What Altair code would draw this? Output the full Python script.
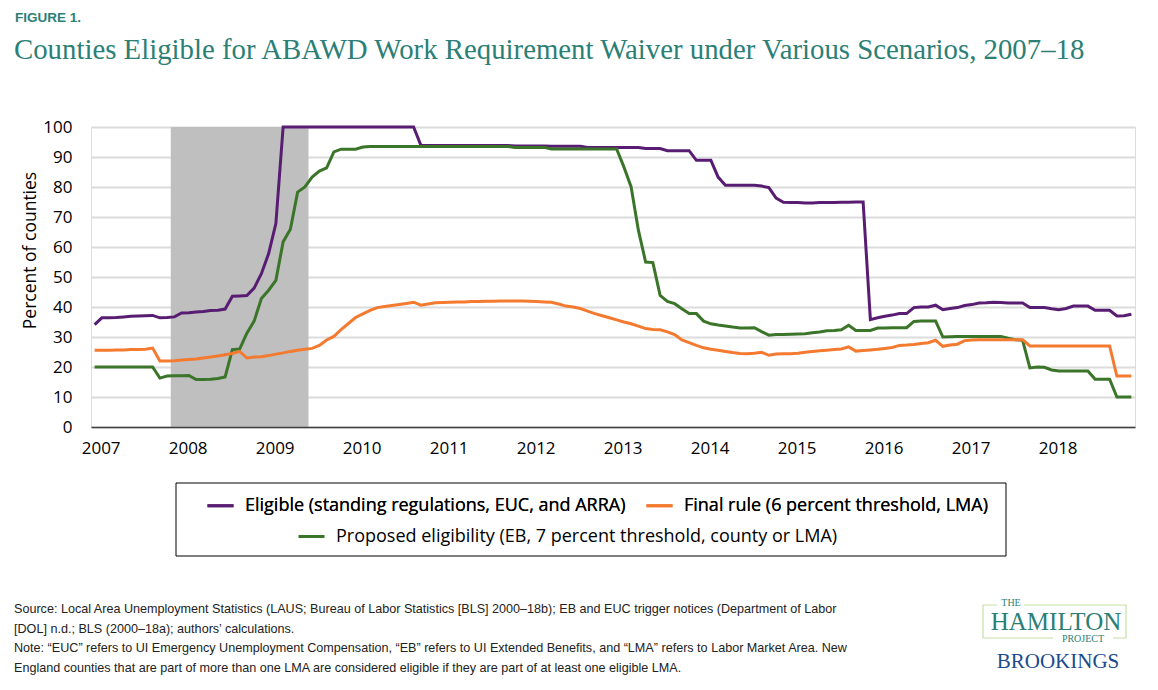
import altair as alt
import pandas as pd

# ---------------- data ----------------
year_labels = [str(y) for y in range(2007, 2019)]

eligible = [
    34.1, 36.4, 36.4, 36.5, 36.7, 36.9, 37.0, 37.1, 37.2, 36.4, 36.5, 36.7,
    38.0, 38.1, 38.3, 38.5, 38.8, 38.9, 39.3, 43.6, 43.7, 43.8, 46.3, 51.1,
    57.8, 67.8, 100.0, 100.0, 100.0, 100.0, 100.0, 100.0, 100.0, 100.0, 100.0, 100.0,
    100.0, 100.0, 100.0, 100.0, 100.0, 100.0, 100.0, 100.0, 100.0, 93.9, 93.8, 93.8,
    93.8, 93.8, 93.8, 93.8, 93.8, 93.8, 93.8, 93.8, 93.8, 93.8, 93.7, 93.7,
    93.7, 93.7, 93.7, 93.6, 93.6, 93.6, 93.6, 93.6, 93.2, 93.2, 93.2, 93.2,
    93.2, 93.2, 93.2, 93.2, 92.8, 92.8, 92.8, 92.1, 92.1, 92.1, 92.1, 88.9,
    88.9, 88.9, 83.3, 80.6, 80.6, 80.6, 80.6, 80.6, 80.3, 79.8, 76.3, 74.9,
    74.8, 74.8, 74.7, 74.7, 74.8, 74.8, 74.8, 74.9, 74.9, 75.0, 75.0, 35.8,
    36.4, 36.9, 37.3, 37.8, 37.8, 39.8, 40.0, 40.0, 40.6, 39.1, 39.5, 39.8,
    40.5, 40.8, 41.3, 41.4, 41.6, 41.5, 41.3, 41.3, 41.3, 39.8, 39.8, 39.8,
    39.4, 39.1, 39.5, 40.3, 40.3, 40.3, 38.9, 38.9, 38.9, 37.0, 37.1, 37.6,
]

final_rule = [
    25.6, 25.6, 25.6, 25.7, 25.7, 25.8, 25.8, 25.9, 26.3, 22.0, 22.0, 22.1,
    22.3, 22.5, 22.7, 23.0, 23.3, 23.7, 24.1, 24.5, 25.2, 23.0, 23.3, 23.4,
    23.8, 24.3, 24.7, 25.2, 25.6, 25.9, 26.2, 27.2, 29.0, 30.2, 32.5, 34.5,
    36.5, 37.7, 38.9, 39.8, 40.2, 40.5, 40.8, 41.2, 41.6, 40.6, 41.0, 41.4,
    41.5, 41.6, 41.7, 41.7, 41.8, 41.8, 41.9, 41.9, 42.0, 42.0, 42.0, 42.0,
    41.9, 41.8, 41.7, 41.6, 41.0, 40.3, 40.0, 39.5, 38.6, 37.8, 37.1, 36.4,
    35.7, 35.0, 34.4, 33.6, 32.8, 32.5, 32.4, 31.7, 30.8, 29.0, 28.1, 27.2,
    26.4, 25.9, 25.6, 25.2, 24.8, 24.5, 24.4, 24.6, 24.9, 23.9, 24.3, 24.4,
    24.4, 24.6, 24.9, 25.2, 25.4, 25.6, 25.8, 26.0, 26.7, 25.3, 25.5, 25.7,
    25.9, 26.2, 26.5, 27.2, 27.3, 27.5, 27.8, 28.1, 28.9, 26.9, 27.3, 27.6,
    28.8, 29.0, 29.1, 29.1, 29.1, 29.1, 29.1, 29.1, 29.1, 27.0, 27.0, 27.0,
    27.0, 27.0, 27.0, 27.0, 27.0, 27.0, 27.0, 27.0, 27.0, 17.0, 17.0, 17.0,
]

proposed = [
    20.0, 20.0, 20.0, 20.0, 20.0, 20.0, 20.0, 20.0, 20.0, 16.3, 17.0, 17.1,
    17.1, 17.2, 15.8, 15.8, 15.9, 16.2, 16.7, 25.8, 26.0, 31.3, 35.3, 42.8,
    45.6, 48.9, 61.7, 65.9, 78.3, 80.0, 83.3, 85.3, 86.4, 91.7, 92.6, 92.6,
    92.6, 93.3, 93.5, 93.5, 93.5, 93.5, 93.5, 93.5, 93.5, 93.5, 93.5, 93.5,
    93.5, 93.5, 93.5, 93.5, 93.5, 93.5, 93.5, 93.5, 93.5, 93.5, 93.2, 93.2,
    93.2, 93.2, 93.2, 92.7, 92.7, 92.7, 92.7, 92.7, 92.7, 92.7, 92.7, 92.7,
    92.7, 86.7, 80.0, 65.6, 55.0, 54.8, 43.9, 41.9, 41.1, 39.4, 37.8, 37.8,
    35.3, 34.4, 34.0, 33.7, 33.3, 33.0, 33.0, 33.1, 31.8, 30.6, 30.8, 30.8,
    30.9, 31.0, 31.1, 31.4, 31.7, 32.1, 32.2, 32.4, 33.9, 32.2, 32.2, 32.2,
    33.0, 33.0, 33.1, 33.1, 33.1, 35.2, 35.3, 35.3, 35.3, 30.0, 30.1, 30.2,
    30.2, 30.2, 30.2, 30.2, 30.2, 30.2, 29.6, 29.1, 28.9, 19.7, 20.0, 19.9,
    19.0, 18.7, 18.7, 18.7, 18.7, 18.7, 15.9, 15.9, 15.9, 10.0, 10.0, 10.0,
]

series_names = [
    "Eligible (standing regulations, EUC, and ARRA)",
    "Final rule (6 percent threshold, LMA)",
    "Proposed eligibility (EB, 7 percent threshold, county or LMA)",
]

# recession (Dec 2007 - Jun 2009) as month boundaries counted from Jan 2007
recession_start = [11]
recession_end = [30]
recession_top = [100]
recession_bottom = [0]

footnote_lines = [
    "Source: Local Area Unemployment Statistics (LAUS; Bureau of Labor Statistics [BLS] 2000–18b); EB and EUC trigger notices (Department of Labor",
    "[DOL] n.d.; BLS (2000–18a); authors’ calculations.",
    "Note: “EUC” refers to UI Emergency Unemployment Compensation, “EB” refers to UI Extended Benefits, and “LMA” refers to Labor Market Area. New",
    "England counties that are part of more than one LMA are considered eligible if they are part of at least one eligible LMA.",
]

# ---------------- styles ----------------
PURPLE = "#581d72"
ORANGE = "#f47a30"
GREEN = "#3b7529"
TEAL = "#2b7f76"
SANS = "Open Sans"
W, H = 1044, 300

n = len(eligible)
rows = []
for name, vals in zip(series_names, [eligible, final_rule, proposed]):
    for k, v in enumerate(vals):
        rows.append({"series": name, "month": k + 0.5, "value": v})
df = pd.DataFrame(rows)

x_scale = alt.Scale(domain=[0, n], nice=False, zero=False)
y_scale = alt.Scale(domain=[0, 100], nice=False, zero=True)
x_axis = alt.Axis(
    values=[12 * i + 0.5 for i in range(len(year_labels))],
    labelExpr="toString(2007 + floor(datum.value / 12))",
    title=None, grid=False, ticks=False, labelOverlap=False,
    labelFont=SANS, labelFontSize=17, labelColor="#000000",
    labelPadding=13, labelOffset=6,
    domainColor="#404040", domainWidth=1.6, zindex=2,
)
y_axis = alt.Axis(
    values=list(range(0, 101, 10)), title="Percent of counties",
    domain=False, ticks=False, grid=True, gridColor="#dcdcdc", gridWidth=2,
    labelOverlap=False, labelFlush=False,
    labelFont=SANS, labelFontSize=17, labelColor="#000000", labelPadding=19,
    titleFont=SANS, titleFontSize=17.5, titleFontWeight="normal", titleColor="#000000",
    titleX=-61, titleY=123, titleAngle=-90, titleAlign="center", titleBaseline="middle",
)

rec_df = pd.DataFrame({"start": recession_start, "end": recession_end,
                       "top": recession_top, "bottom": recession_bottom})
recession = alt.Chart(rec_df).mark_rect(color="#bfbfbf").encode(
    x=alt.X("start:Q", scale=x_scale, axis=x_axis), x2="end:Q",
    y=alt.Y("top:Q", scale=y_scale, axis=y_axis), y2="bottom:Q",
)

legend_common = dict(
    orient="none", direction="horizontal", title=None, symbolType="stroke",
    symbolStrokeWidth=3, symbolSize=676, labelFont=SANS, labelFontSize=18,
    labelFontWeight="normal", labelColor="#000000", labelOffset=10, labelLimit=0,
    columnPadding=14, padding=0,
)

color_scale = alt.Scale(domain=series_names[:2], range=[PURPLE, ORANGE])
base_lines = alt.Chart(df).mark_line(strokeWidth=3).encode(
    x=alt.X("month:Q", scale=x_scale, axis=x_axis),
    y=alt.Y("value:Q", scale=y_scale, axis=y_axis),
    color=alt.Color("series:N", scale=color_scale,
                    legend=alt.Legend(legendX=115, legendY=364, **legend_common)),
)
purple_line = base_lines.transform_filter(alt.datum.series == series_names[0])
orange_line = base_lines.transform_filter(alt.datum.series == series_names[1])
green_line = alt.Chart(df).transform_filter(
    alt.datum.series == series_names[2]
).mark_line(strokeWidth=3).encode(
    x=alt.X("month:Q", scale=x_scale, axis=x_axis),
    y=alt.Y("value:Q", scale=y_scale, axis=y_axis),
    stroke=alt.Stroke("series:N", scale=alt.Scale(domain=[series_names[2]], range=[GREEN]),
                      legend=alt.Legend(legendX=206, legendY=395, **legend_common)),
)

one = alt.Data(values=[{}])


def text(t, x, y, **kw):
    return alt.Chart(one).mark_text(text=t, **kw).encode(x=alt.value(x), y=alt.value(y))


def box(x, x2, y, y2, **kw):
    return alt.Chart(one).mark_rect(**kw).encode(
        x=alt.value(x), x2=alt.value(x2), y=alt.value(y), y2=alt.value(y2))


legend_box = box(85, 915, 356, 429, fill="transparent", stroke="#000000", strokeWidth=1)

fig_label = text("FIGURE 1.", -76, -109, align="left", baseline="middle",
                 font="Liberation Sans", fontSize=13.5, fontWeight="bold", color=TEAL)
title = text("Counties Eligible for ABAWD Work Requirement Waiver under Various Scenarios, 2007–18",
             -77, -68, align="left", baseline="alphabetic", font="Liberation Serif",
             fontSize=28.8, color=TEAL)
notes = text(footnote_lines, -77, 476, align="left", baseline="top", lineHeight=19.6,
             font="Liberation Sans", fontSize=12.6, color="#222222")

logo = [
    box(892, 1035, 478, 511, fill="transparent", stroke="#c6dfa6", strokeWidth=1.2),
    box(906, 933, 472, 484, fill="#ffffff"),
    box(962, 1022, 505, 517, fill="#ffffff"),
    text("THE", 920, 476, align="center", baseline="middle", font="Liberation Serif",
         fontSize=10, color=TEAL),
    text("HAMILTON", 965, 495, align="center", baseline="middle", font="Liberation Serif",
         fontSize=25, color=TEAL),
    text("PROJECT", 992, 512, align="center", baseline="middle", font="Liberation Serif",
         fontSize=10, color=TEAL),
    text("BROOKINGS", 967, 535, align="center", baseline="middle", font="Liberation Serif",
         fontSize=21, color="#1c4b8c"),
]

chart = alt.layer(
    recession, purple_line, green_line, orange_line, legend_box,
    fig_label, title, notes, *logo,
).resolve_legend(color="independent", stroke="independent").properties(
    width=W, height=H,
    autosize=alt.AutoSizeParams(type="none"),
    padding={"left": 83, "top": 119, "right": 15, "bottom": 255},
).configure_view(stroke=None).configure(background="#ffffff")

chart.save("out.html", embed_options={"renderer": "svg", "actions": False})
